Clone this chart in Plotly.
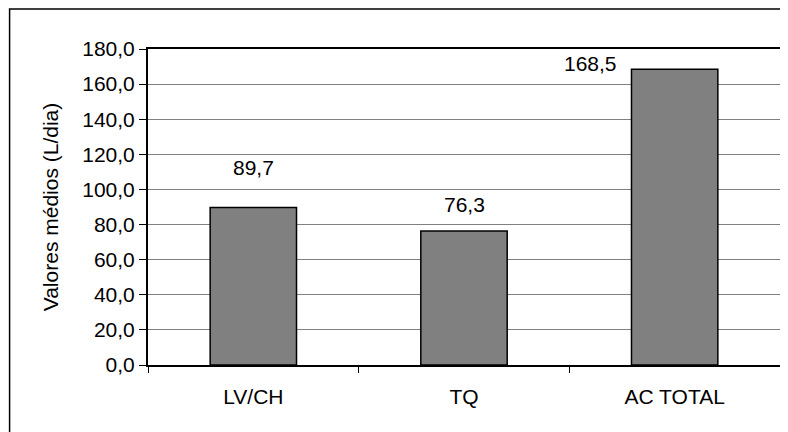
import plotly.graph_objects as go

categorias = ["LV/CH", "TQ", "AC TOTAL"]
valores = [89.7, 76.3, 168.5]
rotulos = ["89,7", "76,3", "168,5"]

fonte = "Liberation Sans, Arial, sans-serif"

fig = go.Figure()
fig.add_trace(go.Bar(
    x=categorias, y=valores,
    marker=dict(color="#808080", line=dict(color="black", width=1.5)),
    showlegend=False,
))

# rotulos de dados (posicao estilo Excel)
desloc = [(0, 40), (0, 27), (-84, 6)]
for cat, v, txt, (dx, dy) in zip(categorias, valores, rotulos, desloc):
    fig.add_annotation(x=cat, y=v, text=txt, showarrow=False,
                       xshift=dx, yshift=dy, yanchor="middle",
                       font=dict(size=21, color="black", family=fonte))

# moldura externa do grafico
fig.add_shape(type="rect", xref="paper", yref="paper",
              x0=-0.219, x1=1.03, y0=-0.3, y1=1.1266,
              line=dict(color="black", width=1.5), layer="below")

fig.update_layout(
    width=780, height=424,
    margin=dict(l=140, r=6, t=41, b=67, pad=0),
    plot_bgcolor="white", paper_bgcolor="white",
    font=dict(family=fonte, size=21, color="black"),
    separators=",.",
    bargap=0.59,
)
fig.update_yaxes(
    range=[0, 180], dtick=20, tickformat=".1f",
    showgrid=True, gridcolor="#808080", gridwidth=1,
    showline=True, linecolor="black", linewidth=2, mirror=True,
    ticks="outside", ticklen=7, tickcolor="black",
    title=dict(text="Valores médios (L/dia)", standoff=18,
               font=dict(size=21, family=fonte, color="black")),
    zeroline=False,
)
fig.update_xaxes(
    showline=True, linecolor="black", linewidth=2, mirror=True,
    ticks="outside", ticklen=6, tickcolor="black", tickson="boundaries",
    ticklabelstandoff=12,
)

fig.write_html("out.html")
